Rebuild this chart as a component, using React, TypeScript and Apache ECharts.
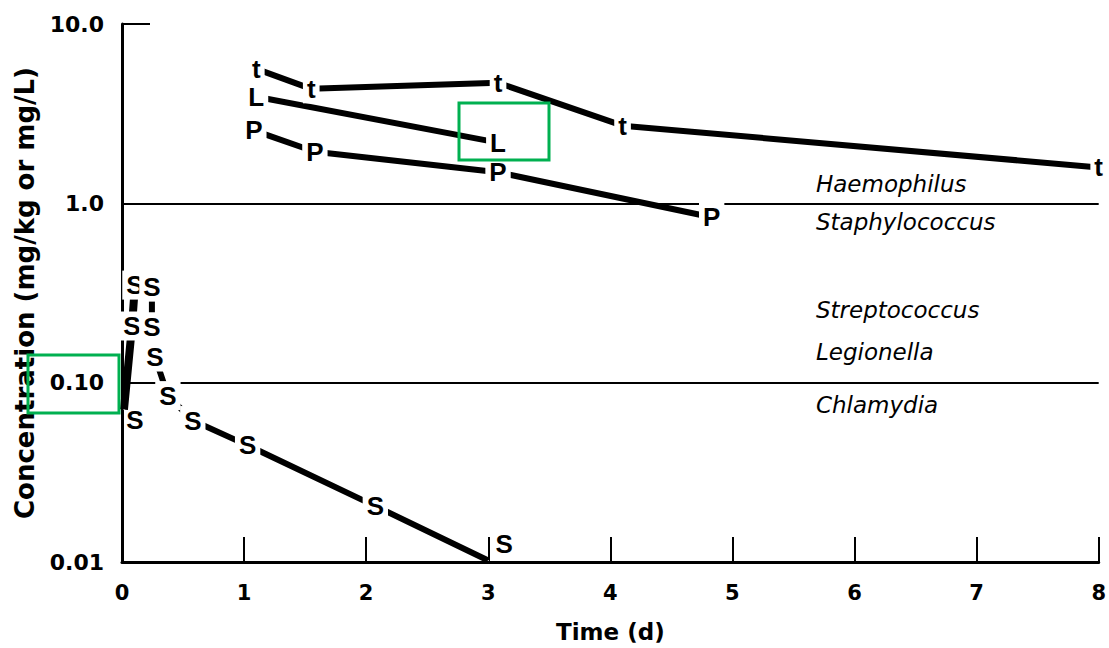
import React, { useEffect, useRef } from "react";
import * as echarts from "echarts";

// ---- data (x = time in days, y = concentration) ----
const xTicks = [0, 1, 2, 3, 4, 5, 6, 7, 8];
const yTickValues = [0.01, 0.1, 1, 10];
const yTickLabels = ["0.01", "0.10", "1.0", "10.0"];

const tPoints: [number, number][] = [
  [1.1, 5.62],
  [1.55, 4.35],
  [3.08, 4.7],
  [4.1, 2.71],
  [8.0, 1.585],
];
const lPoints: [number, number][] = [
  [1.1, 3.93],
  [3.08, 2.18],
];
const pPoints: [number, number][] = [
  [1.08, 2.55],
  [1.58, 1.94],
  [3.08, 1.49],
  [4.83, 0.836],
];
// S: rising limb (left column), second column of peak values, decline
const sRisePoints: [number, number][] = [
  [0.016, 0.0708],
  [0.082, 0.207],
  [0.106, 0.35],
];
const sPeakPoints: [number, number][] = [
  [0.245, 0.341],
  [0.245, 0.205],
];
const sDeclinePoints: [number, number][] = [
  [0.27, 0.139],
  [0.376, 0.0847],
  [0.58, 0.0615],
  [1.029, 0.0447],
  [2.075, 0.0205],
  [3.0, 0.0102],
];

const referenceLevels = [1, 0.1];
const organismNames = ["Haemophilus", "Staphylococcus", "Streptococcus", "Legionella", "Chlamydia"];
const organismX = [5.68, 5.68, 5.68, 5.68, 5.68];
const organismY = [1.29, 0.784, 0.255, 0.149, 0.0755];

const BOLD = "DejaVu Sans";
const LETTER_FONT = "Liberation Sans";

function lineSeries(data: [number, number][], width: number) {
  return {
    type: "line",
    data,
    symbol: "none",
    z: 2,
    lineStyle: { color: "#000", width, cap: "butt", opacity: 1 },
    silent: true,
  };
}

function letterSeries(letter: string, data: any[]) {
  return {
    type: "scatter",
    data,
    symbolSize: 1,
    itemStyle: { color: "#fff", opacity: 1 },
    z: 6,
    silent: true,
    label: {
      show: true,
      position: "inside",
      formatter: letter,
      color: "#000",
      opacity: 1,
      textBorderWidth: 0,
      fontFamily: LETTER_FONT,
      fontWeight: "bold",
      fontSize: 26,
      backgroundColor: "#fff",
      padding: [2, 4, 1, 4],
    },
  };
}

export default function App() {
  const ref = useRef<HTMLDivElement>(null);
  useEffect(() => {
    if (!ref.current) return;
    const chart = echarts.init(ref.current, undefined, { renderer: "svg" });

    const sLetters = [
      { value: sRisePoints[0], label: { offset: [11, 10], backgroundColor: "transparent" } },
      sRisePoints[1],
      sRisePoints[2],
      ...sPeakPoints,
      ...sDeclinePoints.slice(0, sDeclinePoints.length - 1),
      {
        value: sDeclinePoints[sDeclinePoints.length - 1],
        label: { offset: [16, -16], backgroundColor: "transparent" },
      },
    ];

    const option: any = {
      animation: false,
      backgroundColor: "#fff",
      grid: { left: 122, right: 8, top: 24, bottom: 85, containLabel: false },
      xAxis: {
        type: "value",
        min: 0,
        max: 8,
        interval: 1,
        axisLine: { show: true, onZero: false, lineStyle: { color: "#000", width: 3 } },
        axisTick: { show: true, inside: true, length: 25, lineStyle: { color: "#000", width: 2 } },
        axisLabel: {
          color: "#000",
          fontFamily: BOLD,
          fontWeight: "bold",
          fontSize: 21,
          margin: 20,
          formatter: (v: number) => (xTicks.includes(v) ? String(v) : ""),
        },
        splitLine: { show: false },
        name: "Time (d)",
        nameLocation: "middle",
        nameGap: 58,
        nameTextStyle: { color: "#000", fontFamily: BOLD, fontWeight: "bold", fontSize: 23 },
      },
      yAxis: {
        type: "log",
        logBase: 10,
        min: 0.01,
        max: 10,
        axisLine: { show: true, onZero: false, lineStyle: { color: "#000", width: 3 } },
        axisTick: { show: true, inside: true, length: 28, lineStyle: { color: "#000", width: 2 } },
        minorTick: { show: false },
        splitLine: { show: false },
        axisLabel: {
          color: "#000",
          fontFamily: BOLD,
          fontWeight: "bold",
          fontSize: 22,
          margin: 18,
          formatter: (v: number) => {
            let best = 0;
            for (let i = 0; i < yTickValues.length; i++) {
              if (Math.abs(Math.log10(v) - Math.log10(yTickValues[i])) < Math.abs(Math.log10(v) - Math.log10(yTickValues[best]))) best = i;
            }
            return yTickLabels[best];
          },
        },
        name: "Concentration (mg/kg or mg/L)",
        nameLocation: "middle",
        nameGap: 84,
        nameRotate: 90,
        nameTextStyle: { color: "#000", fontFamily: BOLD, fontWeight: "bold", fontSize: 26 },
      },
      series: [
        {
          type: "line",
          data: [],
          z: 1,
          silent: true,
          markLine: {
            silent: true,
            symbol: "none",
            label: { show: false },
            lineStyle: { color: "#000", width: 2, type: "solid", opacity: 1 },
            data: referenceLevels.map((v) => ({ yAxis: v })),
          },
        },
        lineSeries(tPoints, 6),
        lineSeries(lPoints, 6),
        lineSeries(pPoints, 6),
        lineSeries(sRisePoints, 8),
        lineSeries(sPeakPoints, 6),
        lineSeries(sDeclinePoints, 6),
        letterSeries("t", tPoints),
        letterSeries("L", lPoints),
        letterSeries("P", pPoints),
        letterSeries("S", sLetters),
        {
          type: "scatter",
          symbolSize: 1,
          itemStyle: { color: "#fff", opacity: 1 },
          silent: true,
          z: 7,
          data: organismNames.map((n, i) => ({ name: n, value: [organismX[i], organismY[i]] })),
          label: {
            show: true,
            position: "right",
            distance: 0,
            formatter: (p: any) => p.name,
            color: "#000",
            opacity: 1,
            textBorderWidth: 0,
            fontFamily: "DejaVu Sans",
            fontStyle: "italic",
            fontSize: 23,
          },
        },
      ],
      graphic: [
        {
          type: "rect",
          z: 100,
          shape: { x: 28, y: 355, width: 91, height: 58 },
          style: { fill: "none", stroke: "#00b050", lineWidth: 3 },
        },
        {
          type: "rect",
          z: 100,
          shape: { x: 459, y: 103, width: 90, height: 57 },
          style: { fill: "none", stroke: "#00b050", lineWidth: 3 },
        },
      ],
    };
    chart.setOption(option);
    return () => chart.dispose();
  }, []);
  return (
    <div
      ref={ref}
      style={{ position: "fixed", left: 0, top: 0, width: 1109, height: 648, background: "#fff" }}
    />
  );
}
